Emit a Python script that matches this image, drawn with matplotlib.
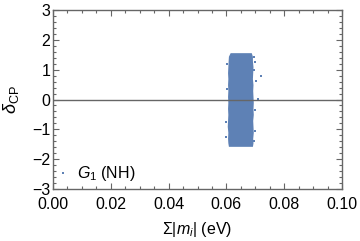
import matplotlib
matplotlib.use("Agg")
import matplotlib.pyplot as plt
from matplotlib.ticker import MultipleLocator

plt.rcParams['font.family'] = ['Liberation Sans', 'DejaVu Sans']
plt.rcParams['mathtext.fontset'] = 'custom'
plt.rcParams['mathtext.it'] = 'Liberation Sans:italic'
plt.rcParams['mathtext.rm'] = 'Liberation Sans'

cloud_y = [-1.57, -1.45, -1.3, -1.1, -0.9, -0.7, -0.5, -0.3, -0.1, 0.1, 0.3, 0.5, 0.7,
           0.9, 1.1, 1.3, 1.45, 1.57]
cloud_left = [0.0607, 0.0605, 0.0604, 0.0605, 0.0603, 0.0604, 0.0605, 0.0604, 0.0605,
              0.0604, 0.0605, 0.0604, 0.0605, 0.0604, 0.0605, 0.0606, 0.0607, 0.0613]
cloud_right = [0.0690, 0.0692, 0.0691, 0.0693, 0.0692, 0.0691, 0.0693, 0.0692, 0.0693,
               0.0692, 0.0691, 0.0692, 0.0690, 0.0691, 0.0692, 0.0690, 0.0690, 0.0686]
# stray points just outside the cloud
stray_x = [0.0702, 0.0718, 0.0697, 0.0710, 0.0699, 0.0600, 0.0598, 0.0696, 0.0700,
           0.0601, 0.0602, 0.0695, 0.0699]
stray_y = [0.62, 0.78, 1.0, 0.02, -0.35, -0.75, -1.25, -1.4, 1.25,
           0.35, 1.2, 1.42, -1.05]

xticks = [0.00, 0.02, 0.04, 0.06, 0.08, 0.10]
xticklabels = ["0.00", "0.02", "0.04", "0.06", "0.08", "0.10"]
yticks = [-3, -2, -1, 0, 1, 2, 3]

col = '#5E81B5'
frame = '#666666'

fig = plt.figure(figsize=(3.6, 2.41), dpi=100)
ax = fig.add_axes([53/360, 52/241, 289/360, 179/241])

ax.fill_betweenx(cloud_y, cloud_left, cloud_right, color=col, lw=0)
ax.scatter(stray_x, stray_y, s=3, marker='s', color=col, lw=0)
ax.axhline(0, color=frame, lw=1)

# legend entry
ax.scatter([0.0035], [-2.47], s=3, marker='s', color=col, lw=0)
ax.text(0.0083, -2.47, r'$\mathit{G}_1$ (NH)', fontsize=11.5, va='center', ha='left')

ax.set_xlim(0, 0.1)
ax.set_ylim(-3, 3)
ax.set_xticks(xticks)
ax.set_xticklabels(xticklabels)
ax.set_yticks(yticks)
ax.xaxis.set_minor_locator(MultipleLocator(0.005))
ax.yaxis.set_minor_locator(MultipleLocator(0.2))
ax.tick_params(which='both', direction='in', top=True, right=True, color=frame,
               labelsize=11.5, width=0.8)
ax.tick_params(axis='x', pad=5.5)
ax.tick_params(axis='y', pad=2)
ax.tick_params(which='major', length=4)
ax.tick_params(which='minor', length=2)
for s in ax.spines.values():
    s.set_color(frame)
    s.set_linewidth(1)

ax.set_xlabel(r'$\Sigma|\mathit{m_i}|$ (eV)', fontsize=11.5, labelpad=6)
ax.set_ylabel(r'$\delta_{\mathrm{CP}}$', fontsize=13, labelpad=8)

fig.savefig('out.png', dpi=100)
